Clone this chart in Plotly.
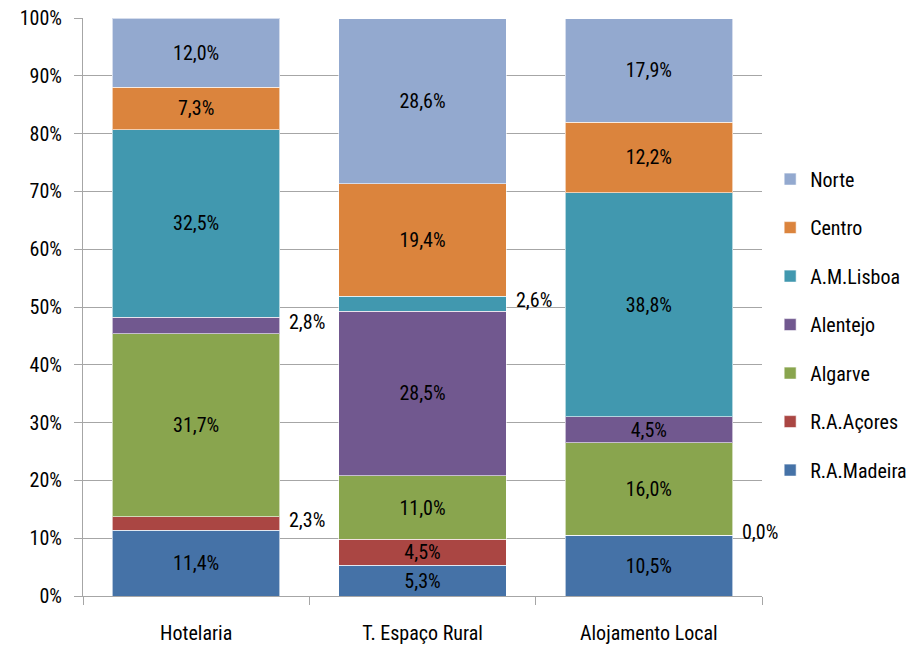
import plotly.graph_objects as go

categories = ["Hotelaria", "T. Espaço Rural", "Alojamento Local"]
series_names = ["R.A.Madeira", "R.A.Açores", "Algarve", "Alentejo", "A.M.Lisboa", "Centro", "Norte"]
madeira = [11.4, 5.3, 10.5]
acores = [2.3, 4.5, 0.0]
algarve = [31.7, 11.0, 16.0]
alentejo = [2.8, 28.5, 4.5]
lisboa = [32.5, 2.6, 38.8]
centro = [7.3, 19.4, 12.2]
norte = [12.0, 28.6, 17.9]
colors = ["#4572A7", "#AA4643", "#89A54E", "#71588F", "#4198AF", "#DB843D", "#93A9CF"]
values = [madeira, acores, algarve, alentejo, lisboa, centro, norte]
y_ticks = list(range(0, 101, 10))
y_ticklabels = [f"{t}%" for t in y_ticks]

FONT = "Liberation Sans Narrow, Roboto Condensed, Arial Narrow, Liberation Sans, sans-serif"
FS = 20
OUTSIDE_THRESHOLD = 3.0

fig = go.Figure()
cum = [0.0] * len(categories)
annotations = []
n = len(series_names)
for k, (name, vals, col) in enumerate(zip(series_names, values, colors)):
    texts = [f"{v:.1f}%".replace(".", ",") if v >= OUTSIDE_THRESHOLD else "" for v in vals]
    fig.add_trace(go.Bar(
        x=categories, y=vals, name=name, legendgroup=name, legendrank=100 + (n - k),
        marker=dict(color=col, line=dict(color="rgba(255,255,255,0.6)", width=1)),
        text=texts, textposition="inside", insidetextanchor="middle",
        textangle=0, constraintext="none",
        textfont=dict(family=FONT, size=FS, color="black"),
        hoverinfo="skip",
    ))
    for i, v in enumerate(vals):
        if v < OUTSIDE_THRESHOLD:
            annotations.append(dict(
                x=categories[i], y=cum[i] + v / 2 + 0.6, xref="x", yref="y",
                text=f"{v:.1f}%".replace(".", ","), showarrow=False,
                xanchor="left", xshift=91,
                font=dict(family=FONT, size=FS, color="black"),
            ))
        cum[i] += v

fig.update_layout(
    barmode="stack", bargap=0.26,
    width=916, height=647,
    margin=dict(l=83, r=154, t=18, b=51, autoexpand=False),
    plot_bgcolor="white", paper_bgcolor="white",
    font=dict(family=FONT, size=FS, color="black"),
    legend=dict(
        x=1.012, xanchor="left", y=0.755, yanchor="top",
        traceorder="grouped", tracegroupgap=19.5,
        font=dict(family=FONT, size=FS, color="black"),
        itemwidth=30,
    ),
    annotations=annotations,
    showlegend=True,
)
fig.update_yaxes(
    range=[0, 100], tickvals=y_ticks, ticktext=y_ticklabels,
    showgrid=True, gridcolor="#A6A6A6", gridwidth=1,
    showline=True, linecolor="#A6A6A6", linewidth=1,
    ticks="outside", ticklen=8, tickcolor="#A6A6A6",
    zeroline=False, tickfont=dict(family=FONT, size=FS),
    ticklabeloverflow="allow", ticklabelstandoff=8,
)
fig.update_xaxes(
    range=[-0.5, 2.5],
    showline=True, linecolor="#A6A6A6", linewidth=1,
    ticks="outside", tickson="boundaries", ticklen=8, tickcolor="#A6A6A6",
    tickfont=dict(family=FONT, size=FS), ticklabelstandoff=19,
)

fig.write_html(
    "out.html",
    config={"displayModeBar": False},
    post_script="document.body.style.margin='0';document.body.style.overflow='hidden';",
)
